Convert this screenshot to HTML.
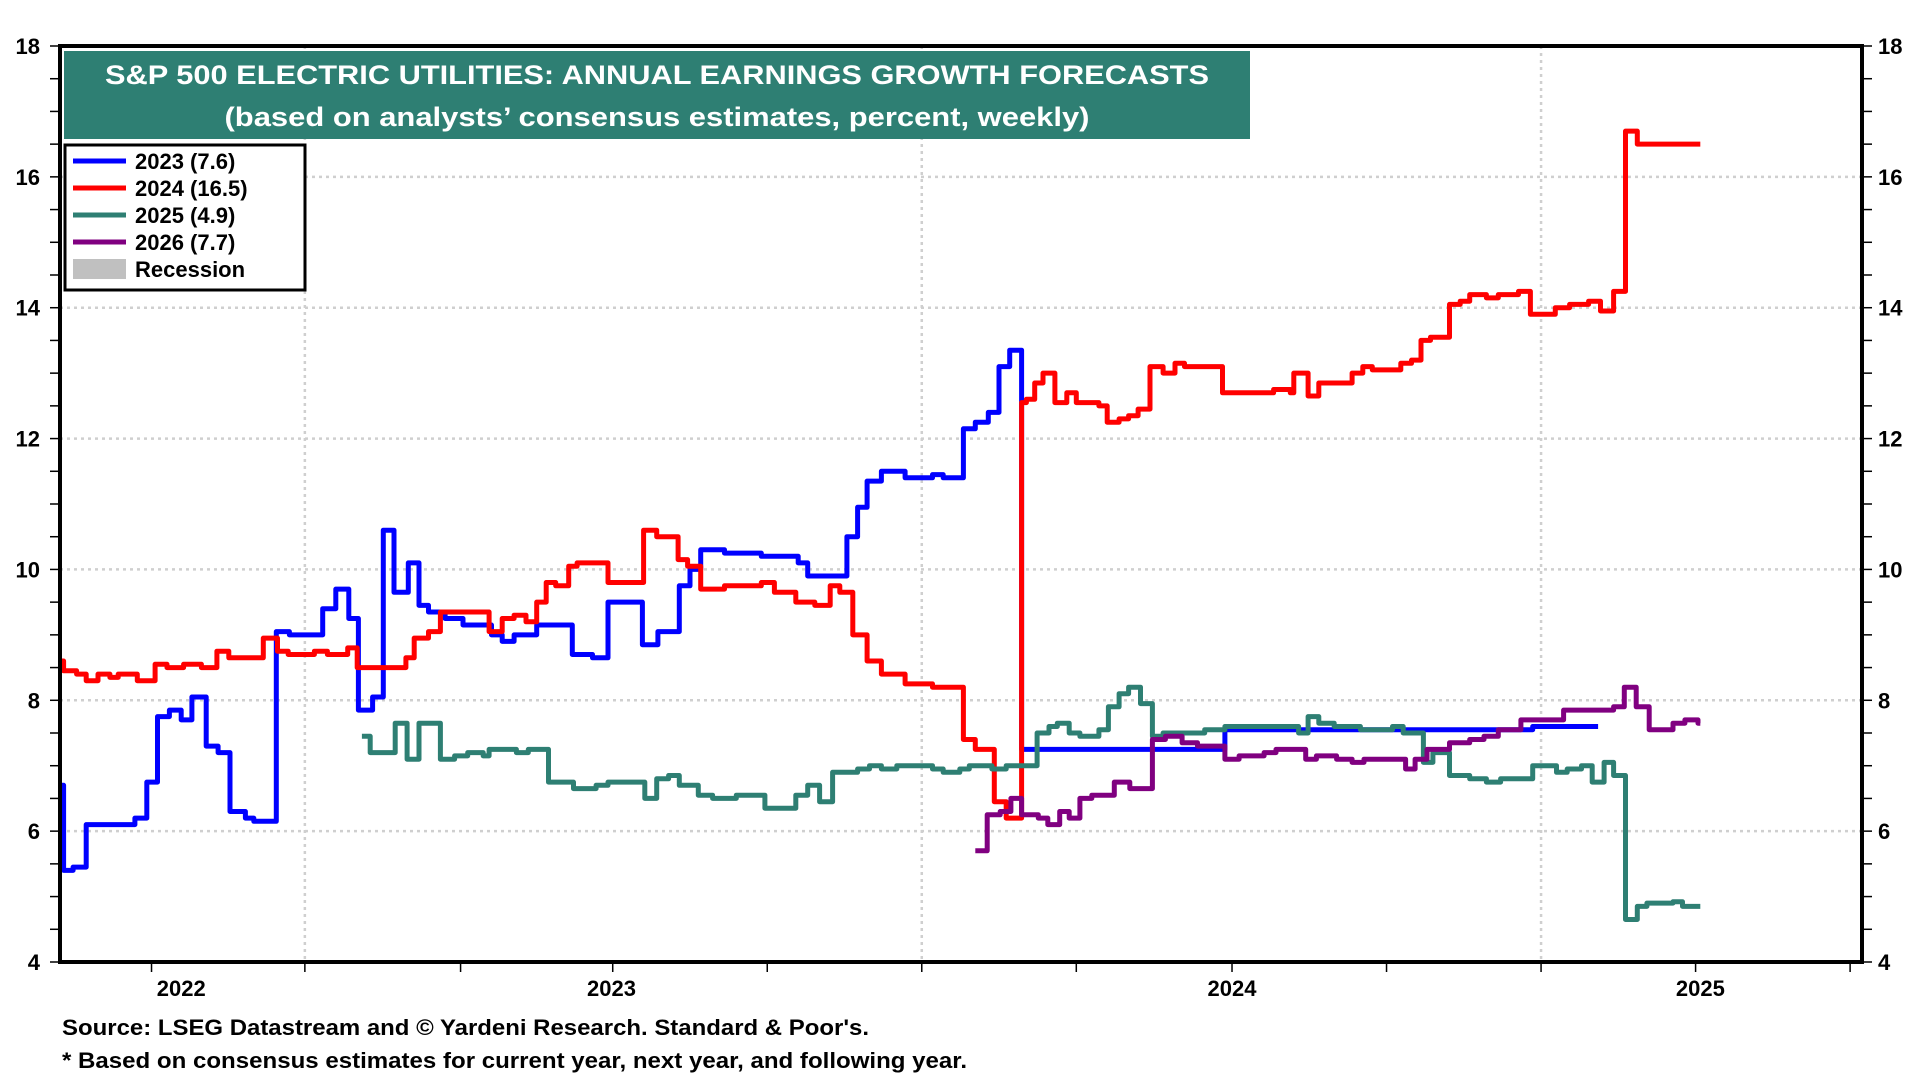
<!DOCTYPE html>
<html><head><meta charset="utf-8">
<style>
html,body{margin:0;padding:0;background:#fff;}
svg{display:block;font-family:"Liberation Sans",Arial,sans-serif;}
</style></head>
<body>
<svg id="chart" width="1920" height="1080" viewBox="0 0 1920 1080" xmlns="http://www.w3.org/2000/svg">
  <rect x="0" y="0" width="1920" height="1080" fill="#fff"/>
  <g id="grid"></g>
  <g id="series"></g>
  <g id="axes"></g>
  <g>
    <rect x="64" y="51" width="1186" height="88" fill="#2e7f73"/>
    <text x="657" y="84" text-anchor="middle" fill="#fff" font-weight="bold" font-size="27" textLength="1104" lengthAdjust="spacingAndGlyphs">S&amp;P 500 ELECTRIC UTILITIES: ANNUAL EARNINGS GROWTH FORECASTS</text>
    <text x="657" y="126" text-anchor="middle" fill="#fff" font-weight="bold" font-size="27" textLength="865" lengthAdjust="spacingAndGlyphs">(based on analysts’ consensus estimates, percent, weekly)</text>
  </g>
  <g id="legend">
    <rect x="65" y="145" width="240" height="145" fill="#fff" stroke="#000" stroke-width="3"/>
  </g>
  <text x="62" y="1035" font-weight="bold" font-size="22" textLength="807" lengthAdjust="spacingAndGlyphs">Source: LSEG Datastream and © Yardeni Research. Standard &amp; Poor's.</text>
  <text x="62" y="1068" font-weight="bold" font-size="22" textLength="905" lengthAdjust="spacingAndGlyphs">* Based on consensus estimates for current year, next year, and following year.</text>
</svg>
<script>
// ---- data (x = week index since start of chart, y = percent) ----
const yTicks = [4, 6, 8, 10, 12, 14, 16, 18];
const quarterTickWeeks = [7.7, 20.6, 33.7, 46.5, 59.5, 72.5, 85.5, 98.6, 111.6, 124.6, 137.6, 150.6];
const gridWeeks = [20.6, 72.5, 124.6];
const yearLabels = ["2022", "2023", "2024", "2025"];
const yearLabelWeeks = [10.2, 46.4, 98.6, 138.0];
const seriesNames = ["2023 (7.6)", "2024 (16.5)", "2025 (4.9)", "2026 (7.7)"];
const seriesColors = ["#0000ff", "#ff0000", "#2e7f73", "#800080"];

const s2023Weeks = [0,0.3,1.1,2.2,6.3,7.3,8.2,9.2,10.2,11.1,12.3,13.3,14.3,15.6,16.3,18.2,19.3,22.1,23.2,24.3,25.1,26.3,27.2,28.1,29.3,30.2,31.0,32.4,33.9,36.3,37.2,38.2,40.1,43.1,44.8,46.1,49.0,50.3,52.1,53.0,53.9,55.9,59.0,62.1,62.9,66.2,67.1,67.9,69.1,71.1,73.4,74.3,76.0,77.0,78.1,79.0,79.9,80.9,98.0,123.9,129.4];
const s2023Vals = [6.7,5.4,5.45,6.1,6.2,6.75,7.75,7.85,7.7,8.05,7.3,7.2,6.3,6.2,6.15,9.05,9.0,9.4,9.7,9.25,7.85,8.05,10.6,9.65,10.1,9.45,9.35,9.25,9.15,9.0,8.9,9.0,9.15,8.7,8.65,9.5,8.85,9.05,9.75,10.0,10.3,10.25,10.2,10.1,9.9,10.5,10.95,11.35,11.5,11.4,11.45,11.4,12.15,12.25,12.4,13.1,13.35,7.25,7.55,7.6,7.6];

const s2024Weeks = [0,0.3,1.4,2.2,3.2,4.2,4.9,6.5,8.0,9.0,10.4,11.9,13.2,14.2,17.1,18.3,19.2,21.4,22.5,24.2,25.0,29.1,29.8,31.0,32.0,36.1,37.2,38.2,39.2,40.1,40.9,41.7,42.8,43.5,46.1,49.1,50.2,52.0,52.8,53.9,55.9,59.0,60.1,61.9,63.5,64.8,65.6,66.7,67.9,69.1,71.1,73.4,76.0,77.0,78.6,79.6,80.9,81.3,82.0,82.7,83.7,84.7,85.5,87.4,88.1,89.1,89.9,90.7,91.7,92.8,93.8,94.6,97.8,102.1,103.5,103.8,105.0,105.9,108.7,109.6,110.4,112.8,113.7,114.5,115.3,116.9,117.8,118.6,120.0,121.0,122.7,123.7,125.8,127.0,128.6,129.6,130.7,131.7,132.7,138.0];
const s2024Vals = [8.6,8.45,8.4,8.3,8.4,8.35,8.4,8.3,8.55,8.5,8.55,8.5,8.75,8.65,8.95,8.75,8.7,8.75,8.7,8.8,8.5,8.65,8.95,9.05,9.35,9.05,9.25,9.3,9.2,9.5,9.8,9.75,10.05,10.1,9.8,10.6,10.5,10.15,10.05,9.7,9.75,9.8,9.65,9.5,9.45,9.75,9.65,9.0,8.6,8.4,8.25,8.2,7.4,7.25,6.45,6.2,12.55,12.6,12.85,13.0,12.55,12.7,12.55,12.5,12.25,12.3,12.35,12.45,13.1,13.0,13.15,13.1,12.7,12.75,12.7,13.0,12.65,12.85,13.0,13.1,13.05,13.15,13.2,13.5,13.55,14.05,14.1,14.2,14.15,14.2,14.25,13.9,14.0,14.05,14.1,13.95,14.25,16.7,16.5,16.5];

const s2025Weeks = [25.4,26.1,28.2,29.2,30.2,32.0,33.2,34.3,35.6,36.1,38.4,39.4,41.1,43.2,45.1,46.1,49.2,50.2,51.2,52.1,53.7,54.9,56.9,59.3,61.9,62.9,63.9,65.0,67.1,68.1,69.1,70.4,73.4,74.3,75.7,76.5,78.4,79.6,82.2,83.2,83.9,84.9,85.8,87.4,88.2,89.1,89.9,90.9,91.9,92.8,96.3,98.0,104.2,105.0,105.9,107.2,109.4,112.1,113.0,114.7,115.5,116.9,118.6,120.0,121.2,123.9,125.9,126.8,128.0,128.9,129.9,130.7,131.7,132.7,133.5,135.7,136.5,138.0];
const s2025Vals = [7.45,7.2,7.65,7.1,7.65,7.1,7.15,7.2,7.15,7.25,7.2,7.25,6.75,6.65,6.7,6.75,6.5,6.8,6.85,6.7,6.55,6.5,6.55,6.35,6.55,6.7,6.45,6.9,6.95,7.0,6.95,7.0,6.95,6.9,6.95,7.0,6.95,7.0,7.5,7.6,7.65,7.5,7.45,7.55,7.9,8.1,8.2,7.95,7.45,7.5,7.55,7.6,7.5,7.75,7.65,7.6,7.55,7.6,7.5,7.05,7.2,6.85,6.8,6.75,6.8,7.0,6.9,6.95,7.0,6.75,7.05,6.85,4.65,4.85,4.9,4.92,4.85,4.85];

const s2026Weeks = [77.0,78.0,79.1,80.0,80.9,82.3,83.1,84.1,84.9,85.8,86.8,88.7,90.0,91.9,93.0,94.4,95.7,98.0,99.2,101.3,102.3,104.8,105.7,107.4,108.7,109.7,113.2,114.0,115.0,116.9,118.6,119.8,121.0,122.9,126.5,130.7,131.6,132.6,133.7,135.7,136.7,137.8,138.0];
const s2026Vals = [5.7,6.25,6.3,6.5,6.25,6.2,6.1,6.3,6.2,6.5,6.55,6.75,6.65,7.4,7.45,7.35,7.3,7.1,7.15,7.2,7.25,7.1,7.15,7.1,7.05,7.1,6.95,7.1,7.25,7.35,7.4,7.45,7.55,7.7,7.85,7.9,8.2,7.9,7.55,7.65,7.7,7.65,7.65];

// ---- scales ----
const PL = 60, PR = 1862, PT = 46, PB = 962;
const X0 = 0, X1 = 151.6, Y0 = 4, Y1 = 18;
const xS = w => PL + (w - X0) / (X1 - X0) * (PR - PL);
const yS = v => PB - (v - Y0) / (Y1 - Y0) * (PB - PT);
const NS = "http://www.w3.org/2000/svg";
function mk(tag, attrs, parent) {
  const el = document.createElementNS(NS, tag);
  for (const k in attrs) el.setAttribute(k, attrs[k]);
  parent.appendChild(el);
  return el;
}
const grid = document.getElementById('grid');
const axes = document.getElementById('axes');
const seriesG = document.getElementById('series');
const legend = document.getElementById('legend');

yTicks.forEach(v => {
  if (v === Y0 || v === Y1) return;
  const l = mk('line', {x1: PL, x2: PR, y1: yS(v), y2: yS(v), stroke: '#cfcfcf', 'stroke-width': 2.5, 'stroke-dasharray': '3 4'}, grid);
  
  
});
gridWeeks.forEach(w => {
  const l = mk('line', {x1: xS(w), x2: xS(w), y1: PT, y2: PB, stroke: '#cfcfcf', 'stroke-width': 2.5, 'stroke-dasharray': '3 4'}, grid);
  
  
});

const allW = [s2023Weeks, s2024Weeks, s2025Weeks, s2026Weeks];
const allV = [s2023Vals, s2024Vals, s2025Vals, s2026Vals];
const sNames = ['series-2023', 'series-2024', 'series-2025', 'series-2026'];
allW.forEach((ws, i) => {
  const vs = allV[i];
  let d = 'M' + xS(ws[0]).toFixed(1) + ' ' + yS(vs[0]).toFixed(1);
  for (let k = 1; k < ws.length; k++) {
    d += ' L' + xS(ws[k]).toFixed(1) + ' ' + yS(vs[k - 1]).toFixed(1);
    d += ' L' + xS(ws[k]).toFixed(1) + ' ' + yS(vs[k]).toFixed(1);
  }
  const p = mk('path', {d: d, fill: 'none', stroke: seriesColors[i], 'stroke-width': 5, 'stroke-linejoin': 'round'}, seriesG);
  
  
});

const fr = mk('rect', {x: PL, y: PT, width: PR - PL, height: PB - PT, fill: 'none', stroke: '#000', 'stroke-width': 4}, axes);



for (let v = Y0; v <= Y1 + 0.001; v += 0.5) {
  const y = yS(v);
  const tl = mk('line', {x1: PL - 10, x2: PL, y1: y, y2: y, stroke: '#000', 'stroke-width': 1.5}, axes);
  
  
  const tr = mk('line', {x1: PR, x2: PR + 10, y1: y, y2: y, stroke: '#000', 'stroke-width': 1.5}, axes);
  
  
}
yTicks.forEach(v => {
  const a = mk('text', {x: 40, y: yS(v) + 8, 'text-anchor': 'end', 'font-weight': 'bold', 'font-size': 22}, axes);
  a.textContent = v;
  
  
  const b = mk('text', {x: 1878, y: yS(v) + 8, 'text-anchor': 'start', 'font-weight': 'bold', 'font-size': 22}, axes);
  b.textContent = v;
  
  
});

quarterTickWeeks.forEach(w => {
  const t = mk('line', {x1: xS(w), x2: xS(w), y1: PB, y2: PB + 10, stroke: '#000', 'stroke-width': 1.5}, axes);
  
  
});
yearLabels.forEach((lab, i) => {
  const t = mk('text', {x: xS(yearLabelWeeks[i]), y: 996, 'text-anchor': 'middle', 'font-weight': 'bold', 'font-size': 22}, axes);
  t.textContent = lab;
  
  
});

const legY = [161, 188, 215, 242];
seriesNames.forEach((n, i) => {
  const l = mk('line', {x1: 73, x2: 126, y1: legY[i], y2: legY[i], stroke: seriesColors[i], 'stroke-width': 5}, legend);
  
  
  const t = mk('text', {x: 135, y: legY[i] + 8, 'font-weight': 'bold', 'font-size': 22}, legend);
  t.textContent = n;
  
  
});
const rs = mk('rect', {x: 73, y: 259, width: 53, height: 20, fill: '#c0c0c0'}, legend);


const rt = mk('text', {x: 135, y: 277, 'font-weight': 'bold', 'font-size': 22}, legend);
rt.textContent = 'Recession';


</script>
</body></html>
